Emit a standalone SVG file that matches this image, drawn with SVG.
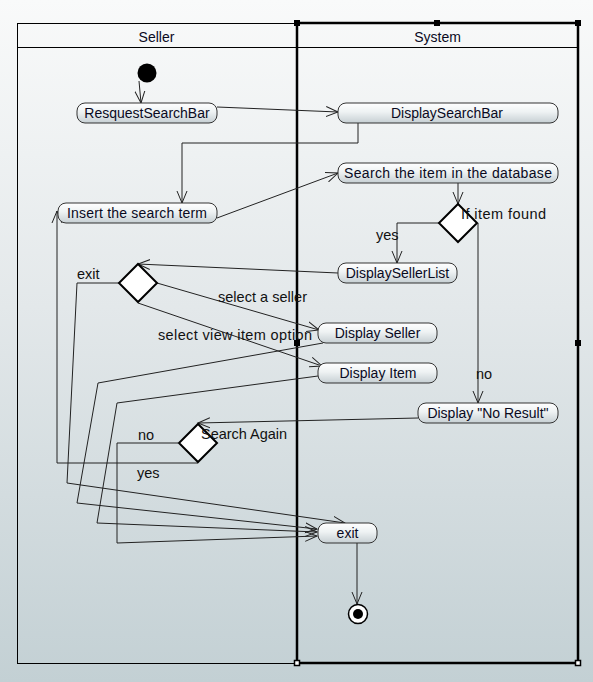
<svg xmlns="http://www.w3.org/2000/svg" width="593" height="682" viewBox="0 0 593 682">
<defs>
<linearGradient id="bg" x1="0" y1="0" x2="0" y2="1">
<stop offset="0" stop-color="#f9fafa"/>
<stop offset="0.45" stop-color="#e3e8ea"/>
<stop offset="1" stop-color="#c3d0d4"/>
</linearGradient>
<linearGradient id="nf" x1="0" y1="0" x2="0" y2="1">
<stop offset="0" stop-color="#ffffff"/>
<stop offset="0.45" stop-color="#eef2f3"/>
<stop offset="1" stop-color="#c6cfd3"/>
</linearGradient>
<marker id="ar" markerWidth="14" markerHeight="12" refX="12" refY="6" orient="auto" markerUnits="userSpaceOnUse">
<path d="M0,1 L12,6 L0,11" fill="none" stroke="#222" stroke-width="1"/>
</marker>
<style>
.t{font-family:"Liberation Sans",Arial,sans-serif;font-size:14px;fill:#0a0a1e}
.n{text-anchor:middle}
.l{font-size:14.5px;fill:#111}
.box{fill:url(#nf);stroke:#333;stroke-width:1}
.dia{fill:#fff;stroke:#000;stroke-width:2}
.c{fill:none;stroke:#222;stroke-width:1;marker-end:url(#ar)}
.lane{fill:none;stroke:#000;stroke-width:1}
.hd{fill:#000}
.hw{fill:#fff;stroke:#000;stroke-width:1.5}
</style>
</defs>
<rect x="0" y="0" width="593" height="682" fill="url(#bg)"/>

<g id="lane-seller">
<rect class="lane" x="17.5" y="23.5" width="280" height="640"/>
<line class="lane" x1="17" y1="47.5" x2="297" y2="47.5"/>
<text class="t n" x="156.5" y="42">Seller</text>
</g>
<g id="lane-system">
<line class="lane" x1="297" y1="47.5" x2="578" y2="47.5"/>
<rect x="297" y="23" width="281" height="640" fill="none" stroke="#000" stroke-width="2.5"/>
<text class="t n" x="437.5" y="42">System</text>
<rect class="hd" x="294" y="20" width="6" height="6"/>
<rect class="hd" x="434" y="20" width="6" height="6"/>
<rect class="hd" x="575" y="20" width="6" height="6"/>
<rect class="hd" x="294" y="340" width="6" height="6"/>
<rect class="hd" x="575" y="340" width="6" height="6"/>
<rect class="hw" x="294.5" y="660.5" width="5" height="5"/>
<rect class="hw" x="575.5" y="660.5" width="5" height="5"/>
</g>

<g id="connectors">
<path class="c" d="M139,81 L141,103"/>
<path class="c" d="M217,107 L338,112"/>
<path class="c" d="M358,123 V143 H182 V203"/>
<path class="c" d="M217,218 L338,173"/>
<path class="c" d="M458,183 V204"/>
<path class="c" d="M439,223 H397 V263"/>
<path class="c" d="M478,223 V403"/>
<path class="c" d="M338,273 L138,264"/>
<path class="c" d="M119,283 H77 L67,483 L345,523"/>
<path class="c" d="M157,283 L319,330"/>
<path class="c" d="M138,303 L322,366"/>
<path class="c" d="M323,343 L98,383 L77,503 L317,529"/>
<path class="c" d="M318,376 L117,403 L97,523 L317,532"/>
<path class="c" d="M418,418 L198,423"/>
<path class="c" d="M178,443 H117 V543 L317,536"/>
<path class="c" d="M198,463 H57 V211"/>
<path class="c" d="M357,543 V604"/>
</g>

<g id="initial"><circle cx="147" cy="73" r="9.5" fill="#000"/></g>

<g id="n-request"><rect class="box" x="77" y="103" width="140" height="20" rx="8"/><text class="t n" x="147" y="118">ResquestSearchBar</text></g>
<g id="n-displaysearchbar"><rect class="box" x="338" y="103" width="220" height="20" rx="8"/><text class="t n" x="447" y="118">DisplaySearchBar</text></g>
<g id="n-search"><rect class="box" x="338" y="163" width="220" height="20" rx="8"/><text class="t n" x="448" y="178" textLength="208" lengthAdjust="spacing">Search the item in the database</text></g>
<g id="n-insert"><rect class="box" x="58" y="203" width="159" height="20" rx="8"/><text class="t n" x="137" y="218" textLength="140" lengthAdjust="spacing">Insert the search term</text></g>
<g id="d-found"><polygon class="dia" points="458,204 477,223 458,242 439,223"/></g>
<g id="n-sellerlist"><rect class="box" x="338" y="263" width="119" height="20" rx="8"/><text class="t n" x="397.5" y="278">DisplaySellerList</text></g>
<g id="d-choice"><polygon class="dia" points="138,264 157,283 138,302 119,283"/></g>
<g id="n-seller"><rect class="box" x="318" y="323" width="119" height="20" rx="8"/><text class="t n" x="377.5" y="338">Display Seller</text></g>
<g id="n-item"><rect class="box" x="318" y="363" width="119" height="20" rx="8"/><text class="t n" x="378" y="378">Display Item</text></g>
<g id="n-noresult"><rect class="box" x="418" y="403" width="140" height="20" rx="8"/><text class="t n" x="488" y="418">Display "No Result"</text></g>
<g id="d-again"><polygon class="dia" points="198,424 217,443 198,462 179,443"/></g>
<g id="n-exit"><rect class="box" x="318" y="523" width="59" height="20" rx="8"/><text class="t n" x="347.5" y="538">exit</text></g>
<g id="final"><circle cx="358" cy="614" r="9.5" fill="#fff" stroke="#000" stroke-width="1.5"/><circle cx="358" cy="614" r="5" fill="#000"/></g>

<g id="connector-labels">
<text class="t l" x="461" y="219" textLength="85" lengthAdjust="spacing">If item found</text>
<text class="t l" x="376" y="240">yes</text>
<text class="t l" x="476" y="379">no</text>
<text class="t l" x="77" y="279">exit</text>
<text class="t l" x="218" y="302" textLength="89" lengthAdjust="spacing">select a seller</text>
<text class="t l" x="158" y="340" textLength="154" lengthAdjust="spacing">select view item option</text>
<text class="t l" x="201" y="439" textLength="86" lengthAdjust="spacing">Search Again</text>
<text class="t l" x="138" y="440">no</text>
<text class="t l" x="137" y="478">yes</text>
</g>
</svg>
